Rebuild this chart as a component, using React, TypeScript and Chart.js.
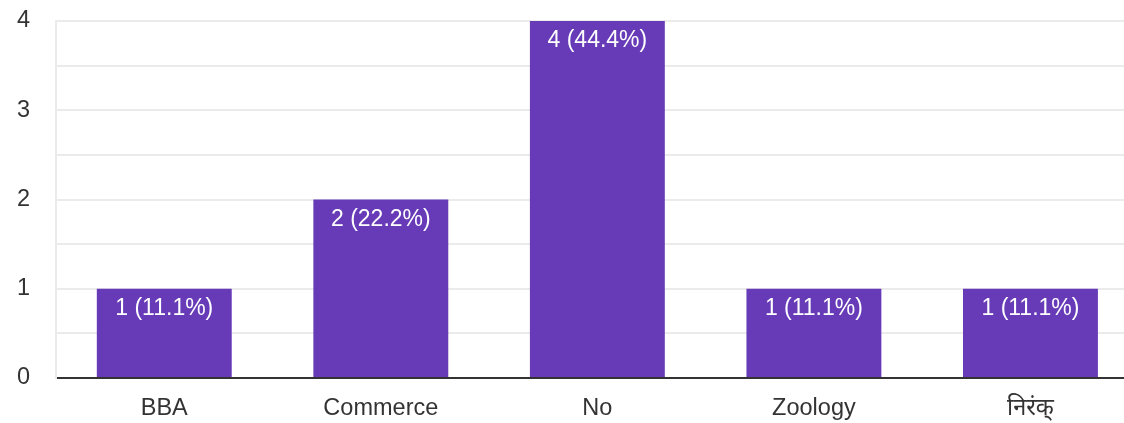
import React, { useEffect, useRef } from "react";
import { Chart, registerables } from "chart.js";

Chart.register(...registerables);

const categories = ["BBA", "Commerce", "No", "Zoology", "निरंक्"];
const counts = [1, 2, 4, 1, 1];
const percents = ["11.1%", "22.2%", "44.4%", "11.1%", "11.1%"];
const yTickLabels = ["0", "1", "2", "3", "4"];

const FONT = "'Liberation Sans', Arial, 'Noto Sans', sans-serif";

const barLabelPlugin = {
  id: "barLabels",
  afterDatasetsDraw(chart: any) {
    const ctx = chart.ctx;
    const meta = chart.getDatasetMeta(0);
    ctx.save();
    ctx.font = `23px ${FONT}`;
    ctx.fillStyle = "#ffffff";
    ctx.textAlign = "center";
    ctx.textBaseline = "alphabetic";
    meta.data.forEach((bar: any, i: number) => {
      ctx.fillText(`${counts[i]} (${percents[i]})`, bar.x, bar.y + 26);
    });
    ctx.restore();
  },
};

export default function App() {
  const ref = useRef<HTMLCanvasElement | null>(null);
  useEffect(() => {
    if (!ref.current) return;
    const chart = new Chart(ref.current, {
      type: "bar",
      data: {
        datasets: [
          {
            data: counts.map((v, i) => ({ x: i, y: v })) as any,
            backgroundColor: "#673ab7",
            borderWidth: 0,
            barPercentage: 0.623,
            categoryPercentage: 1,
          },
        ],
      },
      options: {
        animation: false,
        responsive: true,
        maintainAspectRatio: false,
        layout: { padding: { top: 21, right: 0, left: 0, bottom: 0 } },
        plugins: {
          legend: { display: false },
          tooltip: { enabled: false },
        },
        scales: {
          x: {
            type: "linear",
            offset: false,
            bounds: "ticks",
            min: -0.5,
            max: 4.432,
            afterBuildTicks: (scale: any) => {
              scale.ticks = categories.map((_, i) => ({ value: i }));
            },
            afterFit: (scale: any) => {
              scale.height = 45;
            },
            grid: { display: false, drawTicks: false, offset: false },
            border: { display: true, color: "#333333", width: 2 },
            ticks: {
              autoSkip: false,
              maxRotation: 0,
              padding: 16,
              color: "#333333",
              font: { size: 23.5, family: FONT },
              callback: (v: any) => categories[v as number] ?? "",
            },
          },
          y: {
            min: 0,
            max: 4,
            afterFit: (scale: any) => {
              scale.width = 56;
            },
            grid: {
              color: "#ebebeb",
              lineWidth: 2,
              drawTicks: true,
              tickLength: 26,
              tickColor: "rgba(0,0,0,0)",
            },
            border: { display: true, color: "#ebebeb", width: 2 },
            ticks: {
              stepSize: 0.5,
              padding: 0,
              color: "#333333",
              font: { size: 23.5, family: FONT },
              callback: (v: any) =>
                Number.isInteger(v) ? yTickLabels[v as number] : "",
            },
          },
        },
      },
      plugins: [barLabelPlugin],
    });
    return () => chart.destroy();
  }, []);
  return (
    <div
      style={{
        position: "fixed",
        left: 0,
        top: 0,
        width: 1124,
        height: 423,
        background: "#ffffff",
      }}
    >
      <canvas ref={ref} />
    </div>
  );
}
